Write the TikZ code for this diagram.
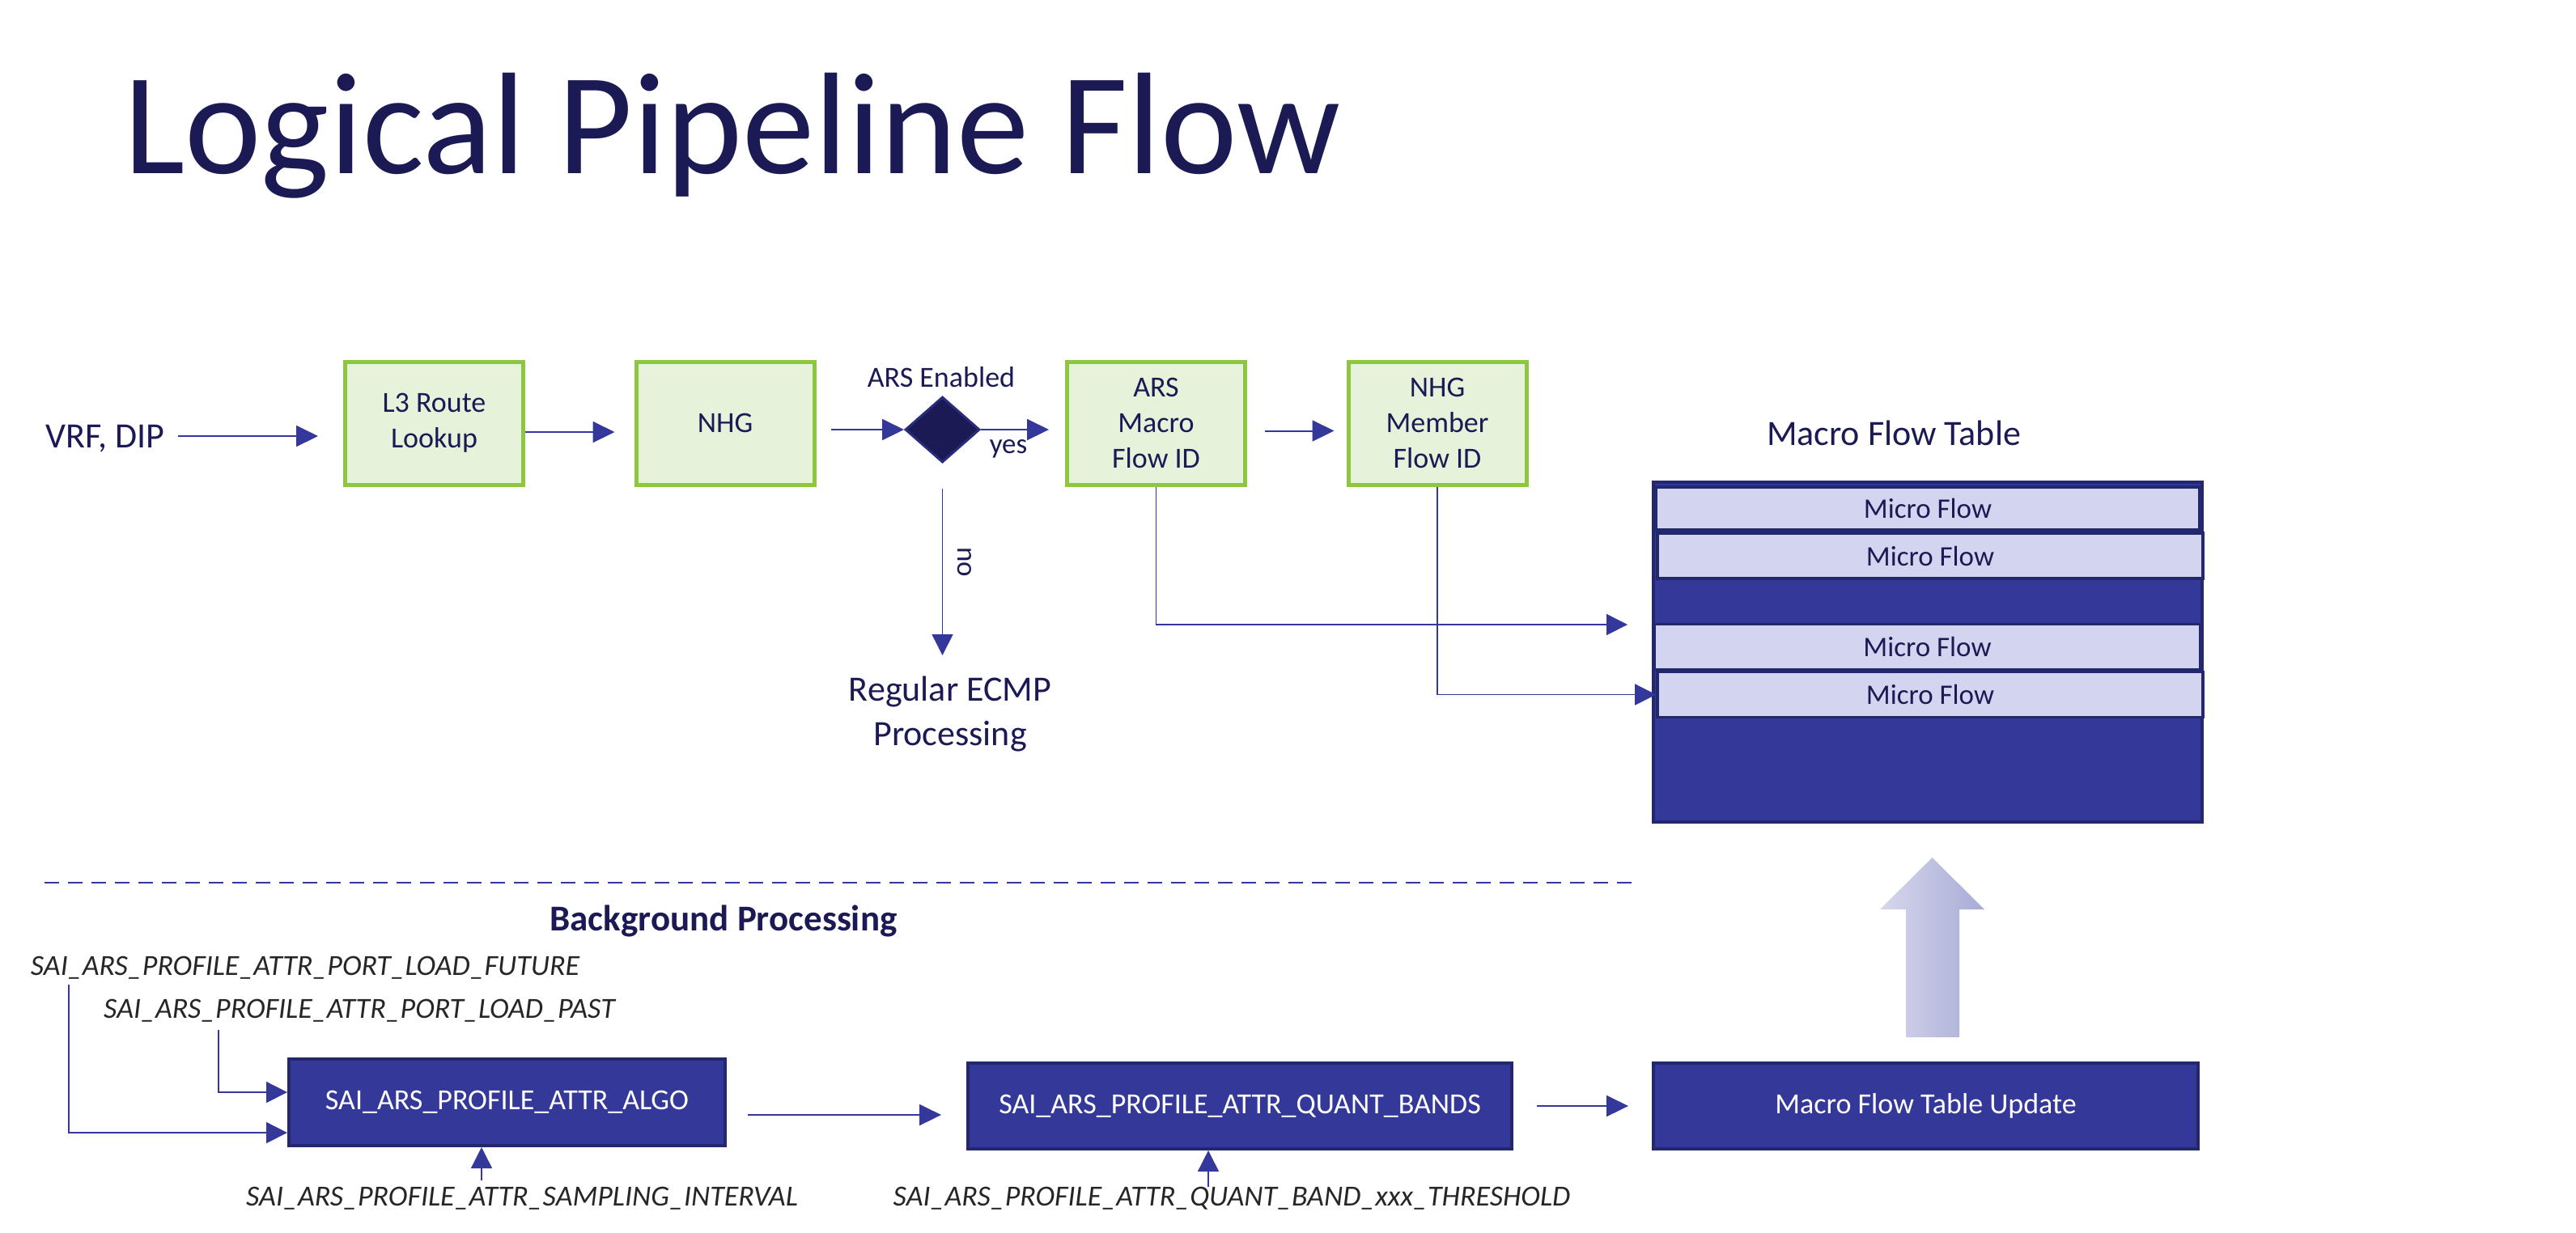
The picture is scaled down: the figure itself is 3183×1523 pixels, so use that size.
\documentclass[tikz,border=0pt]{standalone}
\usepackage{fontspec}
\setmainfont{Carlito}
\usetikzlibrary{arrows.meta,shapes.geometric,calc}
\definecolor{navy}{HTML}{1B1A55}
\definecolor{arrowblue}{HTML}{33389A}
\definecolor{boxblue}{HTML}{343898}
\definecolor{boxedge}{HTML}{23276B}
\definecolor{microfill}{HTML}{D3D4F0}
\definecolor{greenedge}{HTML}{8DC63F}
\definecolor{greenfill}{HTML}{E6F3DA}
\definecolor{saigray}{HTML}{262626}
\definecolor{diamedge}{HTML}{282C7A}
\definecolor{arrowlight}{HTML}{D6D7EC}
\definecolor{arrowdark}{HTML}{A8ABD6}
\begin{document}
\begin{tikzpicture}[x=0.5pt,y=-0.5pt,
  greenbox/.style={draw=greenedge, fill=greenfill, line width=2.5pt, minimum width=110pt, minimum height=76pt, inner sep=0pt, align=center, text=navy, font=\fontsize{18}{22}\selectfont},
  darkbox/.style={draw=boxedge, fill=boxblue, line width=2pt, inner sep=0pt, text=white, font=\fontsize{18}{22}\selectfont},
  microbox/.style={draw=boxedge, fill=microfill, line width=1.8pt, inner sep=0pt, text=navy, font=\fontsize{17.5}{21}\selectfont},
  arr/.style={draw=arrowblue, line width=1pt, -{Triangle[length=13.5pt,width=13pt]}},
  thinarr/.style={draw=arrowblue, line width=0.75pt, -{Triangle[length=13pt,width=13pt]}},
  lbl/.style={text=navy, inner sep=0pt},
  sai/.style={text=saigray, inner sep=0pt, anchor=base, font=\fontsize{18}{22}\selectfont\itshape},
  sepline/.style={draw=arrowblue, line width=1.2pt, dash pattern=on 9pt off 5.5pt},
]
\fill[white] (0,0) rectangle (3183,1523);
\useasboundingbox (0,0) rectangle (3183,1523);

% title
\node[lbl, anchor=base west, font=\fontsize{89.5}{102}\selectfont] (title) at (153,214) {Logical Pipeline Flow};

% top row
\node[lbl, anchor=base, font=\fontsize{22}{26}\selectfont] (vrf) at (130,553) {VRF, DIP};
\node[greenbox] (l3) at (536.5,523) {L3 Route\\Lookup};
\node[greenbox] (nhg) at (896,523) {NHG};
\node[diamond, draw=diamedge, fill=navy, line width=1.5pt, minimum width=46pt, minimum height=40.5pt, inner sep=0pt] (dec) at (1164.5,531) {};
\node[greenbox] (ars) at (1428.5,523) {ARS\\Macro\\Flow ID};
\node[greenbox] (nhgm) at (1776,523) {NHG\\Member\\Flow ID};

\node[lbl, anchor=base, font=\fontsize{18}{22}\selectfont] (arsen) at (1163,478) {ARS Enabled};
\node[lbl, anchor=base, font=\fontsize{17.5}{21}\selectfont] (yes) at (1246,560) {yes};
\node[lbl, rotate=-90, font=\fontsize{17.5}{21}\selectfont] (no) at (1192,695) {no};
\node[lbl, align=center, font=\fontsize{22}{27.5}\selectfont] (ecmp) at (1174,882) {Regular ECMP\\Processing};

\draw[arr] ($(vrf.east |- 0,539)+(16,0)$) -- ($(l3.west |- 0,539)+(-31,0)$);
\draw[arr] ($(l3.east)+(0,11)$) -- ($(nhg.west)+(-24,11)$);
\draw[arr] ($(nhg.east |- dec.west)+(18,0)$) -- (dec.west);
\draw[arr] (dec.east) -- ($(ars.west |- dec.east)+(-20,0)$);
\draw[arr] ($(ars.east)+(22,9.5)$) -- ($(nhgm.west)+(-15,9.5)$);
\draw[thinarr] ($(dec.south)+(0,31)$) -- ($(dec.south)+(0,237)$);

% macro flow table
\node[lbl, anchor=base, font=\fontsize{22}{26}\selectfont] (mftl) at (2340,550) {Macro Flow Table};
\node[darkbox, minimum width=339pt, minimum height=210pt] (mft) at (2382,806) {};
\node[microbox, minimum width=336pt, minimum height=26.5pt] (row1) at (2382,628.5) {Micro Flow};
\node[microbox, minimum width=337pt, minimum height=28pt] (row2) at (2385,687) {Micro Flow};
\node[microbox, minimum width=337.5pt, minimum height=28pt] (row3) at (2381.5,799.5) {Micro Flow};
\node[microbox, minimum width=337pt, minimum height=28pt] (row4) at (2385,858.5) {Micro Flow};

\draw[thinarr] (ars.south) |- ($(mft.west)+(-30,-34)$);
\draw[thinarr] (nhgm.south) |- (row4.west);

% separator
\coordinate (sepL) at (55,1091);
\coordinate (sepR) at (2016,1091);
\draw[sepline] (sepL) -- (sepR);

\node[lbl, anchor=base, font=\fontsize{22.5}{26}\selectfont\bfseries] (bgp) at (894,1150) {Background Processing};

% bottom row
\node[sai] (fut) at (377,1205) {SAI\_ARS\_PROFILE\_ATTR\_PORT\_LOAD\_FUTURE};
\node[sai] (past) at (444,1258) {SAI\_ARS\_PROFILE\_ATTR\_PORT\_LOAD\_PAST};
\node[darkbox, minimum width=269.5pt, minimum height=53.5pt] (algo) at (626.5,1362.5) {SAI\_ARS\_PROFILE\_ATTR\_ALGO};
\node[darkbox, minimum width=336pt, minimum height=53pt] (quant) at (1532,1367) {SAI\_ARS\_PROFILE\_ATTR\_QUANT\_BANDS};
\node[darkbox, minimum width=336.5pt, minimum height=53pt] (upd) at (2379.5,1367) {Macro Flow Table Update};
\node[sai] (samp) at (645,1490) {SAI\_ARS\_PROFILE\_ATTR\_SAMPLING\_INTERVAL};
\node[sai] (thr) at (1522,1490) {SAI\_ARS\_PROFILE\_ATTR\_QUANT\_BAND\_xxx\_THRESHOLD};

\draw[thinarr] (85,1217) coordinate (futs) |- ($(algo.west)+(0,37.5)$);
\draw[thinarr] (270,1273) coordinate (pasts) |- ($(algo.west)+(0,-12.5)$);
\draw[arr] ($(algo.east)+(26,15.5)$) -- ($(quant.west |- algo.east)+(-31,15.5)$);
\draw[arr] ($(quant.east)+(29,0)$) -- ($(upd.west)+(-29,0)$);
\draw[thinarr] ($(algo.south)+(-31.5,41)$) -- ($(algo.south)+(-31.5,0)$);
\draw[thinarr] ($(quant.south)+(-39,45)$) -- ($(quant.south)+(-39,0)$);

% big update arrow
\shade[left color=arrowlight, right color=arrowdark] (2355,1282) -- (2355,1124) -- (2323,1124) -- (2387.5,1060) -- (2452,1124) -- (2421,1124) -- (2421,1282) -- cycle;
\end{tikzpicture}
\end{document}
